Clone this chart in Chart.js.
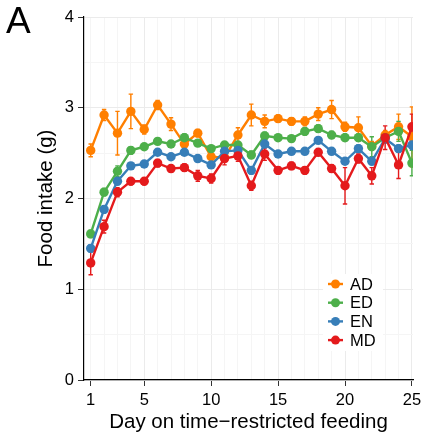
<!DOCTYPE html>
<html><head><meta charset="utf-8">
<script src="https://cdn.jsdelivr.net/npm/chart.js@4/dist/chart.umd.min.js"></script>
<style>html,body{margin:0;padding:0;background:#fff;}#wrap{width:423px;height:441px;position:relative}</style>
</head><body><div id="wrap"><canvas id="c" width="423" height="441"></canvas></div>
<script>
const days = [1,2,3,4,5,6,7,8,9,10,11,12,13,14,15,16,17,18,19,20,21,22,23,24,25];
const xTickLabels = [1,5,10,15,20,25];
const yTickLabels = [0,1,2,3,4];
const seriesNames = ['AD','ED','EN','MD'];
const AD = [2.53,2.92,2.72,2.96,2.76,3.03,2.82,2.60,2.72,2.46,2.45,2.70,2.92,2.85,2.88,2.85,2.85,2.93,2.98,2.79,2.78,2.58,2.70,2.79,2.68];
const AD_err = [0.07,0.06,0.24,0.19,0.05,0.05,0.07,0.07,0.04,0.04,0.04,0.08,0.12,0.07,0.04,0.04,0.05,0.07,0.10,0.05,0.12,0.05,0.05,0.14,0.33];
const ED = [1.61,2.07,2.30,2.53,2.57,2.63,2.60,2.67,2.61,2.55,2.59,2.59,2.48,2.69,2.67,2.66,2.74,2.77,2.70,2.67,2.67,2.57,2.67,2.74,2.39];
const ED_err = [0.04,0.04,0.06,0.04,0.03,0.03,0.03,0.04,0.03,0.03,0.03,0.03,0.04,0.04,0.03,0.03,0.04,0.04,0.04,0.04,0.04,0.11,0.05,0.11,0.14];
const EN = [1.45,1.88,2.19,2.36,2.38,2.51,2.46,2.51,2.44,2.37,2.52,2.53,2.31,2.60,2.49,2.52,2.52,2.64,2.52,2.41,2.55,2.41,2.66,2.55,2.59];
const EN_err = [0.04,0.04,0.04,0.03,0.03,0.03,0.03,0.03,0.03,0.03,0.04,0.04,0.04,0.04,0.03,0.03,0.03,0.03,0.03,0.03,0.04,0.04,0.05,0.04,0.05];
const MD = [1.29,1.69,2.07,2.19,2.19,2.39,2.33,2.34,2.25,2.22,2.44,2.47,2.14,2.49,2.31,2.36,2.31,2.51,2.33,2.14,2.44,2.25,2.67,2.37,2.79];
const MD_err = [0.13,0.07,0.05,0.04,0.04,0.04,0.04,0.04,0.06,0.05,0.07,0.06,0.05,0.07,0.04,0.04,0.04,0.04,0.04,0.20,0.05,0.09,0.13,0.15,0.14];

const colors = {AD:'#FF7F00', ED:'#4DAF4A', EN:'#377EB8', MD:'#E41A1C'};
const FONT = "'Liberation Sans', Arial, Helvetica, sans-serif";
const values = {AD, ED, EN, MD};
const errs = {AD:AD_err, ED:ED_err, EN:EN_err, MD:MD_err};

const datasets = seriesNames.map((n, i) => ({
  label: n,
  data: days.map((d, j) => ({x: d, y: values[n][j]})),
  errors: errs[n],
  borderColor: colors[n],
  backgroundColor: colors[n],
  pointBackgroundColor: colors[n],
  pointBorderColor: colors[n],
  borderWidth: 2.4,
  pointRadius: 4.7,
  pointBorderWidth: 0,
  tension: 0,
  order: seriesNames.length - i
}));

const errorBars = {
  id: 'errorBars',
  beforeDatasetsDraw(chart) {
    const {ctx, chartArea, scales: {x, y}} = chart;
    ctx.save();
    ctx.beginPath();
    ctx.rect(chartArea.left, chartArea.top, chartArea.right - chartArea.left, chartArea.bottom - chartArea.top);
    ctx.clip();
    chart.data.datasets.forEach(ds => {
      ctx.strokeStyle = ds.borderColor;
      ctx.lineWidth = 1.4;
      ds.data.forEach((p, j) => {
        const e = ds.errors[j];
        const px = x.getPixelForValue(p.x);
        const y1 = y.getPixelForValue(p.y - e);
        const y2 = y.getPixelForValue(p.y + e);
        ctx.beginPath();
        ctx.moveTo(px, y1); ctx.lineTo(px, y2);
        ctx.moveTo(px - 2.2, y1); ctx.lineTo(px + 2.2, y1);
        ctx.moveTo(px - 2.2, y2); ctx.lineTo(px + 2.2, y2);
        ctx.stroke();
      });
    });
    ctx.restore();
  }
};

const legendBox = {
  id: 'legendBox',
  afterDatasetsDraw(chart) {
    const {ctx} = chart;
    ctx.save();
    ctx.fillStyle = '#ffffff';
    ctx.fillRect(323, 274, 60, 77);
    ctx.font = '16.5px ' + FONT;
    ctx.textBaseline = 'middle';
    ctx.textAlign = 'left';
    seriesNames.forEach((n, i) => {
      const cy = 284 + i * 18.7;
      ctx.strokeStyle = colors[n];
      ctx.fillStyle = colors[n];
      ctx.lineWidth = 2.4;
      ctx.beginPath(); ctx.moveTo(328, cy); ctx.lineTo(343, cy); ctx.stroke();
      ctx.beginPath(); ctx.arc(335.5, cy, 4.5, 0, Math.PI * 2); ctx.fill();
      ctx.fillStyle = '#000';
      ctx.fillText(n, 350, cy + 1);
    });
    ctx.restore();
  },
  afterDraw(chart) {
    const {ctx} = chart;
    ctx.save();
    ctx.fillStyle = '#000';
    ctx.font = '37px ' + FONT;
    ctx.textBaseline = 'alphabetic';
    ctx.textAlign = 'left';
    ctx.fillText('A', 6, 33);
    ctx.restore();
  }
};

new Chart(document.getElementById('c'), {
  type: 'line',
  data: {datasets},
  plugins: [errorBars, legendBox],
  options: {
    responsive: false,
    animation: false,
    devicePixelRatio: 1,
    layout: {padding: {top: 17, left: 0, right: 10, bottom: 0}},
    plugins: {legend: {display: false}, tooltip: {enabled: false}},
    scales: {
      x: {
        type: 'linear',
        min: 0.5, max: 25.08,
        afterBuildTicks: s => { s.ticks = days.map(v => ({value: v})); },
        afterFit: s => { s.height = 61; s.paddingLeft = 0; s.paddingRight = 0; },
        ticks: {
          autoSkip: false, maxRotation: 0,
          color: '#000', padding: 5,
          font: {family: FONT, size: 16.5},
          callback: v => xTickLabels.includes(v) ? String(v) : ''
        },
        grid: {
          drawTicks: true, tickLength: 6,
          color: c => (c.tick && xTickLabels.includes(c.tick.value) && c.tick.value !== 1) ? '#ebebeb' : '#f5f5f5',
          tickColor: c => (c.tick && xTickLabels.includes(c.tick.value)) ? '#333' : 'rgba(0,0,0,0)',
          lineWidth: 1
        },
        border: {display: true, color: '#000', width: 1.2},
        title: {display: true, text: 'Day on time\u2212restricted feeding', color: '#000', font: {family: FONT, size: 20.5}, padding: {top: 0, bottom: 6}}
      },
      y: {
        type: 'linear',
        min: 0, max: 4,
        afterBuildTicks: s => { s.ticks = [0,0.5,1,1.5,2,2.5,3,3.5,4].map(v => ({value: v})); },
        afterFit: s => { s.width = 84; s.paddingTop = 0; s.paddingBottom = 0; },
        ticks: {
          color: '#000', padding: 4,
          font: {family: FONT, size: 16.5},
          callback: v => yTickLabels.includes(v) ? String(v) : ''
        },
        grid: {
          drawTicks: true, tickLength: 6,
          color: c => (c.tick && yTickLabels.includes(c.tick.value)) ? '#ebebeb' : '#f5f5f5',
          tickColor: c => (c.tick && yTickLabels.includes(c.tick.value)) ? '#333' : 'rgba(0,0,0,0)',
          lineWidth: 1
        },
        border: {display: true, color: '#000', width: 1.2},
        title: {display: true, text: 'Food intake (g)', color: '#000', font: {family: FONT, size: 20.5}, padding: {top: 34, bottom: 0}}
      }
    }
  }
});
</script></body></html>
